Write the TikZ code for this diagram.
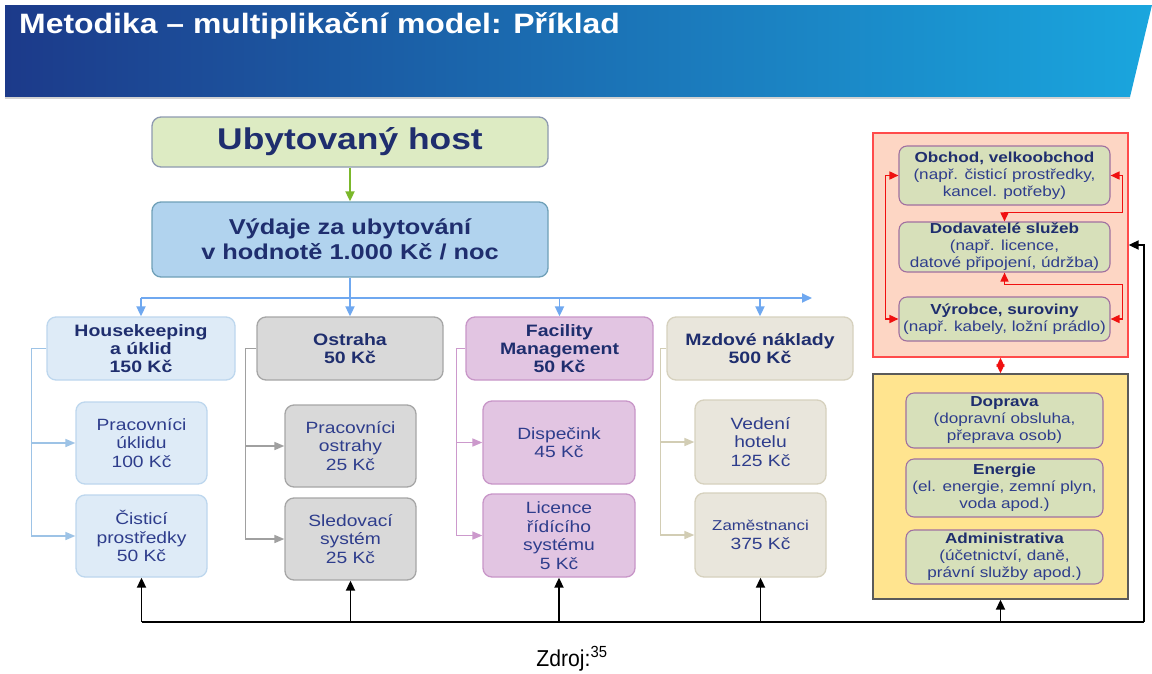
\documentclass[tikz,border=0pt]{standalone}
\usepackage{fontspec}
\setmainfont{Liberation Sans}[FakeStretch=1.18]
\newfontfamily\titlefont{Liberation Sans}[FakeStretch=1.14]
\newfontfamily\plainfont{Liberation Sans}[FakeStretch=0.92]
\usetikzlibrary{arrows.meta,calc}
\definecolor{navy}{HTML}{1F2E6E}
\definecolor{subtxt}{HTML}{2E3D8C}
\definecolor{hdrL}{HTML}{1C3A8A}
\definecolor{hdrM}{HTML}{1B4C9C}
\definecolor{hdrR}{HTML}{1AA6DE}
\definecolor{hostfill}{HTML}{DDEBC3}
\definecolor{hostdraw}{HTML}{8E9AB0}
\definecolor{vydfill}{HTML}{B1D3EE}
\definecolor{vyddraw}{HTML}{6FA0B8}
\definecolor{bluel}{HTML}{6FA8F0}
\definecolor{greenl}{HTML}{7BB82B}
\definecolor{hkfill}{HTML}{DEEBF7}
\definecolor{hkdraw}{HTML}{BDD7EE}
\definecolor{hkline}{HTML}{9DC3E6}
\definecolor{osfill}{HTML}{D9D9D9}
\definecolor{osdraw}{HTML}{A6A6A6}
\definecolor{osline}{HTML}{A0A0A0}
\definecolor{fmfill}{HTML}{E2C5E2}
\definecolor{fmdraw}{HTML}{C896C8}
\definecolor{fmline}{HTML}{CC99CC}
\definecolor{mzfill}{HTML}{E9E6DC}
\definecolor{mzdraw}{HTML}{D6D1BE}
\definecolor{mzline}{HTML}{D2CDB4}
\definecolor{redfill}{HTML}{FDD6C4}
\definecolor{reddraw}{HTML}{FF4B4B}
\definecolor{redarr}{HTML}{F01010}
\definecolor{gbfill}{HTML}{D7E0BA}
\definecolor{gbdraw}{HTML}{A070A0}
\definecolor{yelfill}{HTML}{FFE48F}
\definecolor{yeldraw}{HTML}{5A5A5A}
\tikzset{
  box/.style={rounded corners=9pt, line width=1.3pt, inner sep=0pt, align=center, text=navy},
  hdtext/.style={font=\fontsize{16.5}{17.8}\selectfont\bfseries},
  subtext/.style={font=\fontsize{16.3}{18.5}\selectfont, text=subtxt},
  rtext/.style={font=\fontsize{14.5}{17}\selectfont, text=subtxt},
  hkbox/.style={box, fill=hkfill, draw=hkdraw},
  osbox/.style={box, fill=osfill, draw=osdraw},
  fmbox/.style={box, fill=fmfill, draw=fmdraw},
  mzbox/.style={box, fill=mzfill, draw=mzdraw},
  gbox/.style={box, fill=gbfill, draw=gbdraw, minimum width=211pt, rounded corners=8pt, line width=1.1pt},
  ybox/.style={box, fill=gbfill, draw=gbdraw, minimum width=197pt, rounded corners=8pt, line width=1.1pt},
  tipS/.style={-{Triangle[length=10pt,width=9pt]}},
  tipB/.style={{Triangle[length=9pt,width=8pt]}-{Triangle[length=9pt,width=8pt]}},
  blueln/.style={draw=bluel, line width=1.8pt},
  subln/.style={line width=1.6pt, -{Triangle[length=10pt,width=8pt]}},
  blk/.style={draw=black, line width=1.8pt},
  redln/.style={draw=redarr, line width=1.6pt, tipB}
}
\begin{document}
\begin{tikzpicture}[x=1pt,y=-1pt]
\useasboundingbox (0,0) rectangle (1152,673);
\fill[white] (0,0) rectangle (1152,673);
% header banner
\shade[left color=hdrL, middle color=hdrM, right color=hdrR] (5,5) -- (1152,5) -- (1130,97) -- (5,97) -- cycle;
\draw[gray!35, line width=1.5pt] (5,98) -- (1130,98);
\node[anchor=base west, text=white, inner sep=0pt, font=\titlefont\bfseries\fontsize{28}{30}\selectfont] (title) at (19,33) {Metodika – multiplikační model: Příklad};

% top nodes
\node[box, fill=hostfill, draw=hostdraw, minimum width=396pt, minimum height=50pt, font=\fontsize{30}{34}\selectfont\bfseries] (host) at (350,142) {Ubytovaný host};
\node[box, fill=vydfill, draw=vyddraw, minimum width=396pt, minimum height=75pt, font=\fontsize{21.5}{25}\selectfont\bfseries] (vyd) at (350,239.5) {Výdaje za ubytování\\v hodnotě 1.000 Kč / noc};

% row 1
\node[hkbox, hdtext, minimum width=188pt, minimum height=63pt] (hk) at (141,348.5) {Housekeeping\\a úklid\\150 Kč};
\node[osbox, hdtext, minimum width=186pt, minimum height=63pt] (os) at (350,348.5) {Ostraha\\50 Kč};
\node[fmbox, hdtext, minimum width=187pt, minimum height=63pt] (fm) at (559.5,348.5) {Facility\\Management\\50 Kč};
\node[mzbox, hdtext, minimum width=186pt, minimum height=63pt] (mz) at (760,348.5) {Mzdové náklady\\500 Kč};

% sub boxes
\node[hkbox, subtext, minimum width=131pt, minimum height=82pt] (hk1) at (141.5,443) {Pracovníci\\úklidu\\100 Kč};
\node[hkbox, subtext, minimum width=131pt, minimum height=82pt] (hk2) at (141.5,536) {Čisticí\\prostředky\\50 Kč};
\node[osbox, subtext, minimum width=131pt, minimum height=82pt] (os1) at (350.5,446) {Pracovníci\\ostrahy\\25 Kč};
\node[osbox, subtext, minimum width=131pt, minimum height=82pt] (os2) at (350.5,539) {Sledovací\\systém\\25 Kč};
\node[fmbox, subtext, minimum width=152pt, minimum height=83pt] (fm1) at (559,442.5) {Dispečink\\45 Kč};
\node[fmbox, subtext, minimum width=152pt, minimum height=83pt] (fm2) at (559,535.5) {Licence\\řídícího\\systému\\5 Kč};
\node[mzbox, subtext, minimum width=131pt, minimum height=84pt] (mz1) at (760.5,442) {Vedení\\hotelu\\125 Kč};
\node[mzbox, subtext, minimum width=131pt, minimum height=84pt] (mz2) at (760.5,535) {{\fontsize{14.3}{18.5}\selectfont Zaměstnanci}\\375 Kč};

% right side
\node[draw=reddraw, fill=redfill, line width=1.3pt, minimum width=255pt, minimum height=224pt, inner sep=0pt] (red) at (1000.5,245) {};
\node[gbox, rtext, minimum height=59pt] (ob) at (1004.5,175.5) {{\bfseries\color{navy}Obchod, velkoobchod}\\(např. čisticí prostředky,\\kancel. potřeby)};
\node[gbox, rtext, minimum height=50pt] (dod) at (1004.5,247) {{\bfseries\color{navy}Dodavatelé služeb}\\(např. licence,\\datové připojení, údržba)};
\node[gbox, rtext, minimum height=44pt] (vyr) at (1004.5,319) {{\bfseries\color{navy}Výrobce, suroviny}\\(např. kabely, ložní prádlo)};

\node[draw=yeldraw, fill=yelfill, line width=1.3pt, minimum width=255pt, minimum height=225pt, inner sep=0pt] (yel) at (1000.5,486.5) {};
\node[ybox, rtext, minimum height=55pt] (dop) at (1004.5,420.5) {{\bfseries\color{navy}Doprava}\\(dopravní obsluha,\\přeprava osob)};
\node[ybox, rtext, minimum height=58pt] (ene) at (1004.5,488) {{\bfseries\color{navy}Energie}\\(el. energie, zemní plyn,\\voda apod.)};
\node[ybox, rtext, minimum height=54pt] (adm) at (1004.5,557) {{\bfseries\color{navy}Administrativa}\\(účetnictví, daně,\\právní služby apod.)};

% green arrow
\draw[draw=greenl, line width=1.8pt, -{Triangle[length=10pt,width=9pt]}, color=greenl] (host.south) -- (vyd.north);

% blue distribution
\coordinate (bj) at (350,298);
\coordinate (bend) at (812,298);
\draw[blueln] (vyd.south) -- (bj);
\draw[blueln, color=bluel, tipS] (hk.north |- bj) -- (bend);
\foreach \n in {hk,os,fm,mz}{
  \draw[blueln, color=bluel, tipS] (\n.north |- bj) -- (\n.north);
}

% group connectors
\draw[subln, color=hkline] (hk.west) -- ++(-15,0) |- (hk1.west);
\draw[subln, color=hkline] (hk.west) -- ++(-15,0) |- (hk2.west);
\draw[subln, color=osline] (os.west) -- ++(-11,0) |- (os1.west);
\draw[subln, color=osline] (os.west) -- ++(-11,0) |- (os2.west);
\draw[subln, color=fmline] (fm.west) -- ++(-9,0) |- (fm1.west);
\draw[subln, color=fmline] (fm.west) -- ++(-9,0) |- (fm2.west);
\draw[subln, color=mzline] (mz.west) -- ++(-6,0) |- (mz1.west);
\draw[subln, color=mzline] (mz.west) -- ++(-6,0) |- (mz2.west);

% bottom black feedback
\coordinate (bl) at (141.5,622);
\coordinate (br) at (1144,622);
\draw[blk] (bl) -- (br);
\draw[blk, tipS] (br) |- (red.east);
\foreach \n in {hk2,os2,fm2,mz2,yel}{
  \draw[blk, tipS] (\n.south |- bl) -- (\n.south);
}

% red arrows
\draw[redln] (ob.west) -- ++(-13,0) |- (vyr.west);
\draw[redln] (ob.east) -- ++(12,0) -- ++(0,37) -| (dod.north);
\draw[redln] (dod.south) -- ++(0,12) -| ($(vyr.east)+(12,0)$) -- (vyr.east);
\draw[redln] (red.south) -- (yel.north);

% source
\node[font=\plainfont\fontsize{23}{24}\selectfont, inner sep=0pt] (src) at (572,659) {Zdroj:\textsuperscript{35}};
\end{tikzpicture}
\end{document}
